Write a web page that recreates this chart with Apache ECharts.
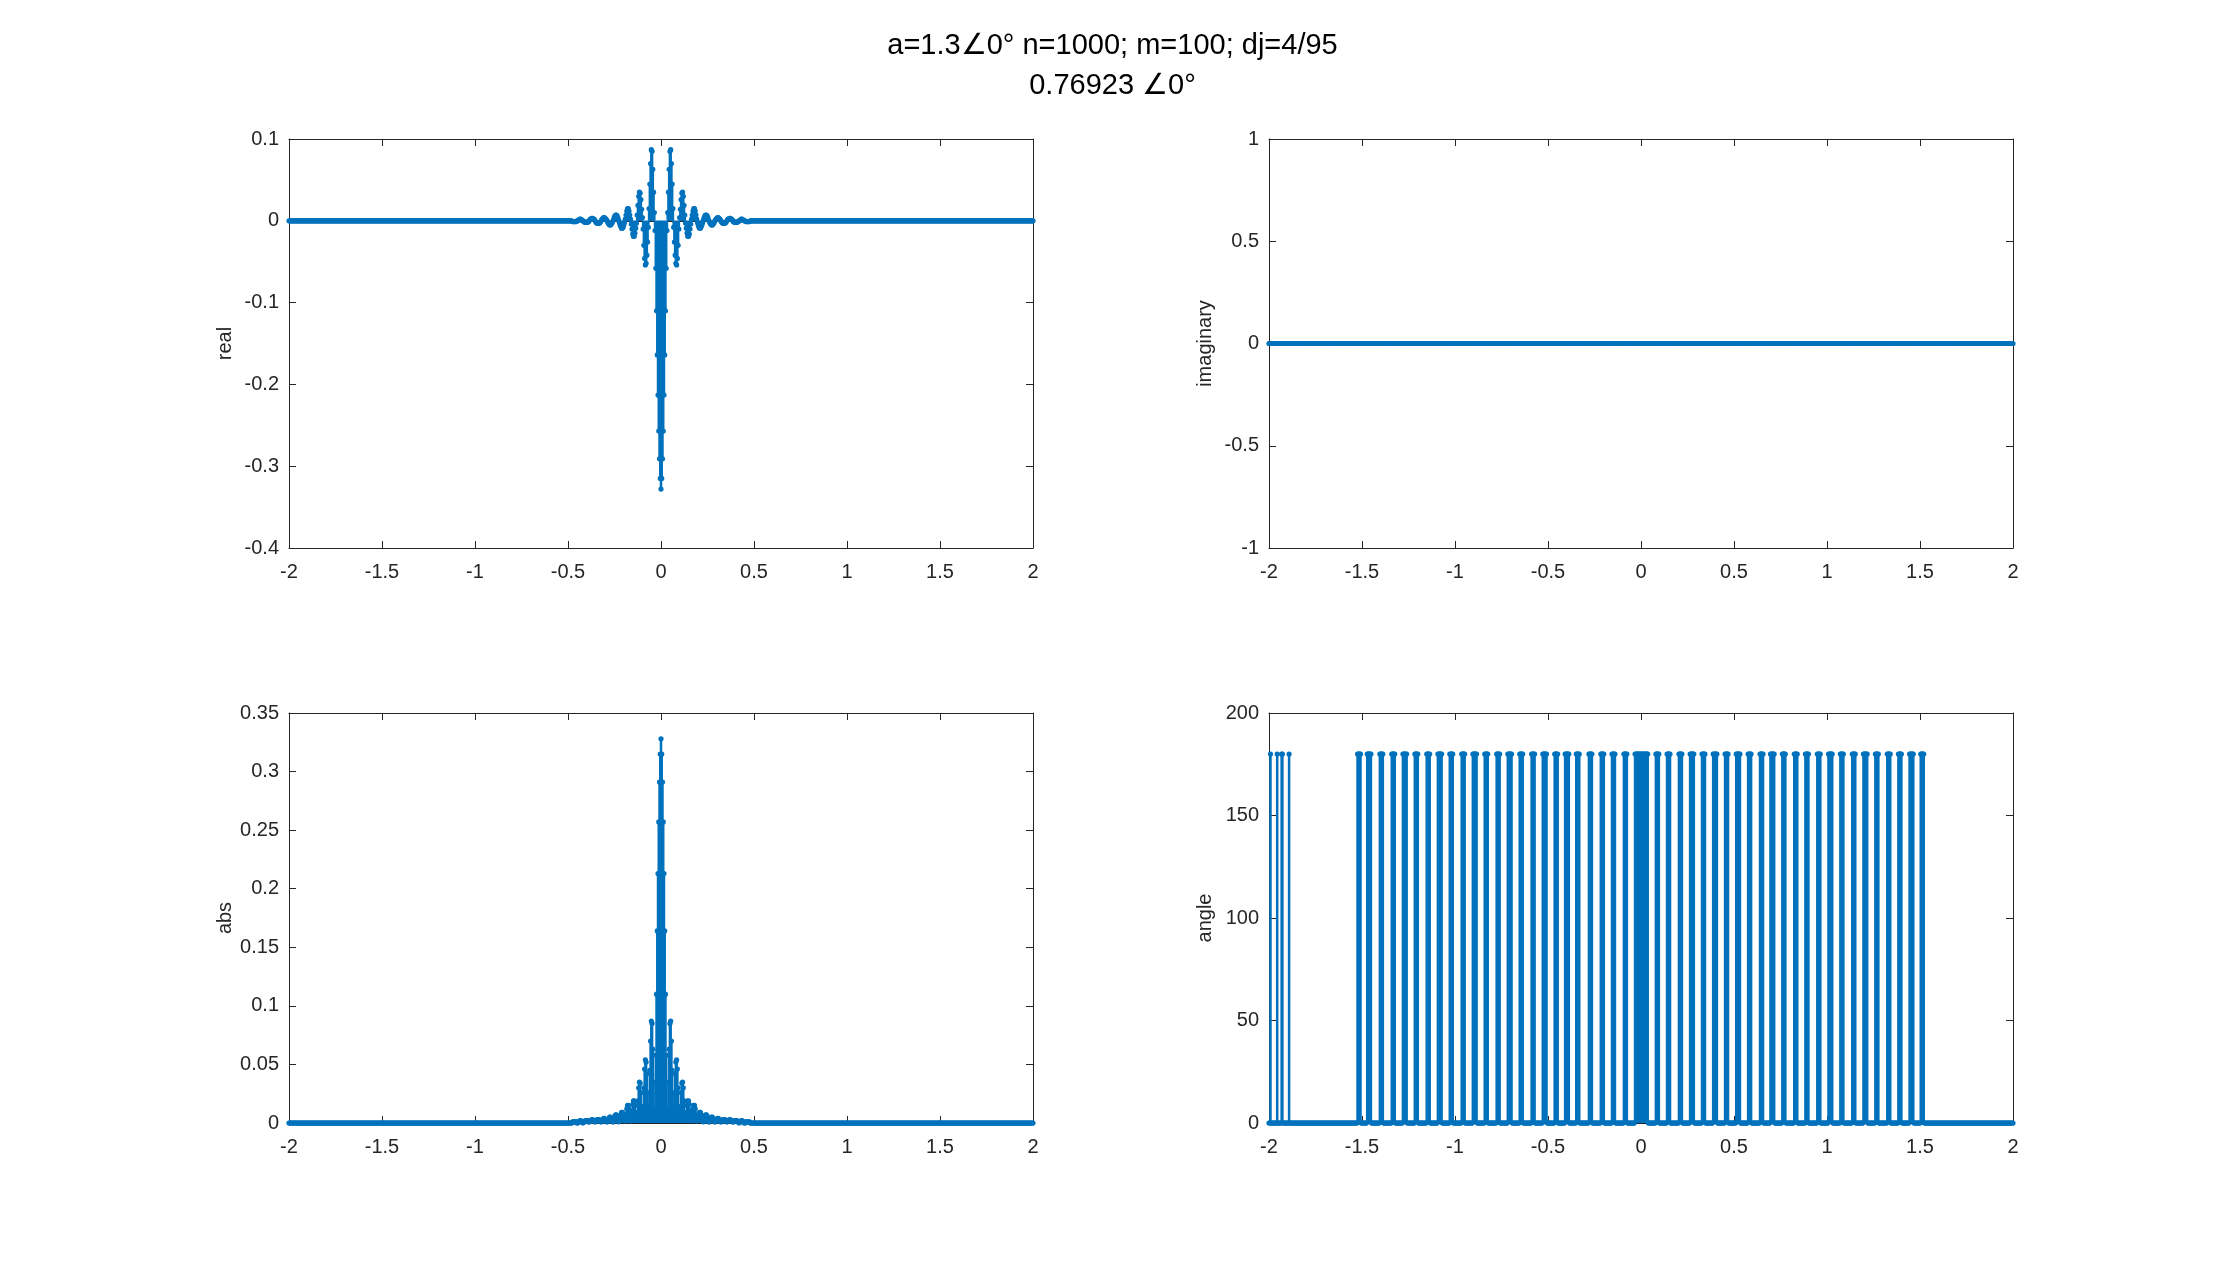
<!DOCTYPE html>
<html>
<head>
<meta charset="utf-8">
<script src="https://cdn.jsdelivr.net/npm/echarts@6/dist/echarts.min.js"></script>
<style>
html, body { margin: 0; padding: 0; background: #fff; }
#chart { width: 2225px; height: 1261px; }
</style>
</head>
<body>
<div id="chart"></div>
<script>
// 标题和各子图的 y 轴名称
var titleLines = ['a=1.3∠0° n=1000; m=100; dj=4/95', '0.76923 ∠0°'];
var panelNames = ['real', 'imaginary', 'abs', 'angle'];

// x 轴范围和刻度间隔
var xRange = [-2, 2, 0.5];
// 各子图 y 轴 [min, max, interval]
var yRanges = [[-0.4, 0.1, 0.1], [-1, 1, 0.5], [0, 0.35, 0.05], [0, 200, 50]];

// 采样点：-2 到 2，步长 0.004
var sampleStart = -2, sampleStep = 0.004, sampleCount = 1001;

// 实部，x = 0, 0.004, 0.008 ... 的读数（图形左右对称），其余为 0
var realHalf = [
    -0.328, -0.315, -0.291, -0.257, -0.213, -0.164, -0.110, -0.058, -0.012,
    0.010, 0.035, 0.063, 0.085, 0.087, 0.070, 0.045, 0.015,
    -0.008, -0.026, -0.042, -0.052, -0.054, -0.046, -0.030, -0.010,
    0.004, 0.014, 0.026, 0.034, 0.035, 0.030, 0.019, 0.007,
    -0.003, -0.009, -0.015, -0.019, -0.019, -0.016, -0.010, -0.004,
    0.002, 0.007, 0.012, 0.015, 0.015, 0.012, 0.007, 0.002,
    -0.002, -0.005, -0.008, -0.009, -0.009, -0.007, -0.005, -0.002,
    0.001, 0.004, 0.006, 0.007, 0.007, 0.006, 0.004, 0.001,
    -0.001, -0.003, -0.004, -0.005, -0.005, -0.004, -0.003, -0.001,
    0.001, 0.002, 0.003, 0.004, 0.004, 0.003, 0.002, 0.001,
    -0.001, -0.002, -0.003, -0.003, -0.003, -0.003, -0.002, -0.001,
    0.001, 0.002, 0.002, 0.003, 0.003, 0.002, 0.002, 0.001,
    -0.001, -0.001, -0.002, -0.002, -0.002, -0.002, -0.001, -0.001,
    0, 0.001, 0.001, 0.002, 0.002, 0.001, 0.001, 0,
    0, -0.001, -0.001, -0.001, -0.001, -0.001, -0.001, 0
];

// 虚部全为 0
var imagValue = 0;

// 相角为 180° 的区段中心（读自右下图）
var angleBandsLeft = [-1.516, -1.462, -1.396, -1.333, -1.270, -1.208, -1.145, -1.082,
    -1.019, -0.957, -0.894, -0.831, -0.769, -0.706, -0.643, -0.581, -0.518, -0.455,
    -0.398, -0.339, -0.272, -0.208, -0.147, -0.084];
var angleBandsRight = [0.088, 0.149, 0.212, 0.274, 0.337, 0.398, 0.459, 0.522, 0.585,
    0.647, 0.706, 0.769, 0.832, 0.892, 0.955, 1.018, 1.081, 1.144, 1.206, 1.269,
    1.332, 1.391, 1.454, 1.513];
var angleCenterBand = [-0.034, 0.036];
var angleSingles = [-1.992, -1.956, -1.930, -1.892];
var angleNeg = 180;

var blue = '#0072BD', axisColor = '#262626';
var font = "'Liberation Sans', Arial, Helvetica, sans-serif";

var xs = [];
for (var i = 0; i < sampleCount; i++) {
    xs.push(Math.round((sampleStart + i * sampleStep) * 1000) / 1000);
}
function realAt(x) {
    var k = Math.round(Math.abs(x) / sampleStep);
    return k < realHalf.length ? realHalf[k] : 0;
}
var bands = angleBandsLeft.concat(angleBandsRight);
function angleAt(x) {
    if (x >= angleCenterBand[0] && x <= angleCenterBand[1]) return angleNeg;
    for (var j = 0; j < bands.length; j++) {
        if (Math.abs(x - bands[j]) <= 0.0105) return angleNeg;
    }
    for (var s = 0; s < angleSingles.length; s++) {
        if (Math.abs(x - angleSingles[s]) <= 0.004) return angleNeg;
    }
    return 0;
}
var panelData = [
    xs.map(function (x) { return [x, realAt(x)]; }),
    xs.map(function (x) { return [x, imagValue]; }),
    xs.map(function (x) { return [x, Math.abs(realAt(x))]; }),
    xs.map(function (x) { return [x, angleAt(x)]; })
];

var grids = [
    {left: 289, top: 139, width: 744, height: 409},
    {left: 1269, top: 139, width: 744, height: 409},
    {left: 289, top: 713, width: 744, height: 410},
    {left: 1269, top: 713, width: 744, height: 410}
];

function fmt(v) { return String(parseFloat(v.toFixed(6))); }

var xAxes = [], yAxes = [], series = [];
grids.forEach(function (g, i) {
    var yr = yRanges[i];
    var common = {
        type: 'value',
        gridIndex: i,
        axisLine: {show: true, onZero: false, lineStyle: {color: axisColor, width: 1}},
        axisTick: {show: true, inside: true, length: 7, lineStyle: {color: axisColor}},
        splitLine: {show: false}
    };
    xAxes.push(Object.assign({}, common, {
        position: 'bottom', min: xRange[0], max: xRange[1], interval: xRange[2],
        axisLabel: {show: true, margin: 14, color: axisColor, fontSize: 20, fontFamily: font, formatter: fmt}
    }));
    xAxes.push(Object.assign({}, common, {
        position: 'top', min: xRange[0], max: xRange[1], interval: xRange[2],
        axisLabel: {show: false}
    }));
    yAxes.push(Object.assign({}, common, {
        position: 'left', min: yr[0], max: yr[1], interval: yr[2],
        name: panelNames[i], nameLocation: 'middle', nameGap: 54, nameRotate: 90,
        nameTextStyle: {color: axisColor, fontSize: 20, fontFamily: font},
        axisLabel: {show: true, margin: 10, color: axisColor, fontSize: 20, fontFamily: font, formatter: fmt}
    }));
    yAxes.push(Object.assign({}, common, {
        position: 'right', min: yr[0], max: yr[1], interval: yr[2],
        axisLabel: {show: false}
    }));

    // 基线（在茎叶图下面）
    series.push({
        type: 'line', data: [], xAxisIndex: 2 * i, yAxisIndex: 2 * i, z: 1,
        markLine: {
            silent: true, symbol: 'none', animation: false, z: 1,
            label: {show: false},
            lineStyle: {color: axisColor, width: 1, type: 'solid'},
            data: [{yAxis: 0}]
        }
    });
    // 茎叶图
    series.push({
        type: 'custom', xAxisIndex: 2 * i, yAxisIndex: 2 * i, z: 6,
        data: panelData[i], encode: {x: 0, y: 1},
        clip: false, progressive: 0,
        renderItem: function (params, api) {
            var x = api.value(0), y = api.value(1);
            var base = api.coord([x, 0]), top = api.coord([x, y]);
            var children = [];
            if (y !== 0) {
                children.push({
                    type: 'line',
                    shape: {x1: base[0], y1: base[1], x2: top[0], y2: top[1]},
                    style: {stroke: blue, lineWidth: 2.5}
                });
            }
            children.push({
                type: 'circle',
                shape: {cx: top[0], cy: top[1], r: 2.6},
                style: {fill: blue}
            });
            return {type: 'group', children: children};
        }
    });
});

var chart = echarts.init(document.getElementById('chart'));
chart.setOption({
    animation: false,
    backgroundColor: '#fff',
    title: {
        text: titleLines.join('\n'),
        left: 'center', top: 21,
        textStyle: {fontSize: 29, fontWeight: 'normal', color: '#000', fontFamily: font, lineHeight: 40}
    },
    grid: grids,
    xAxis: xAxes,
    yAxis: yAxes,
    series: series
});
</script>
</body>
</html>
